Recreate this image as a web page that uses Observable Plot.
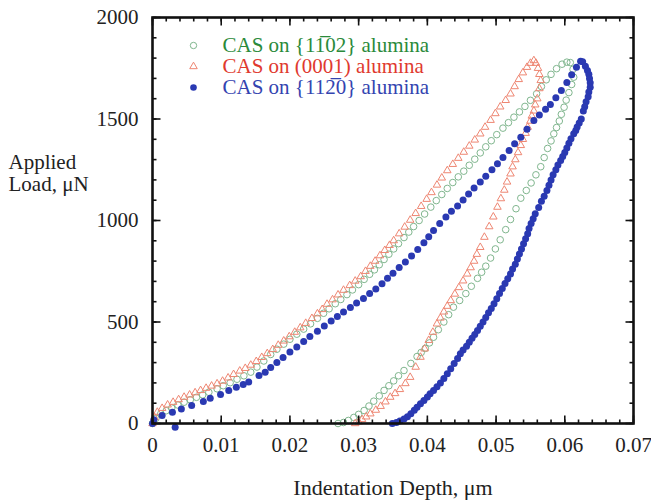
<!DOCTYPE html>
<html><head><meta charset="utf-8">
<script src="https://cdn.jsdelivr.net/npm/d3@7"></script>
<script src="https://cdn.jsdelivr.net/npm/@observablehq/plot@0.6"></script>
<style>body{margin:0;background:#fff}</style>
</head><body><div id="chart"></div>
<script>
// ---- data: [indentation depth (µm), applied load (µN)] ----
const depthTicks = [0, 0.01, 0.02, 0.03, 0.04, 0.05, 0.06, 0.07];
const loadTicks = [0, 500, 1000, 1500, 2000];
const seriesLabels = ["CAS on {11\u030502} alumina", "CAS on (0001) alumina", "CAS on {112\u03050} alumina"];

// green: CAS on {1-102}
const cas1102 = [
[0,0],[0.0005,25],[0.0012,48],[0.0020,63],[0.0028,76],[0.0037,91],[0.0046,105],[0.0055,117],[0.0064,129],[0.0073,141],
[0.0082,154],[0.0094,171],[0.0103,186],[0.0113,201],[0.0123,218],[0.0133,235],[0.0143,253],[0.0152,278],[0.0162,308],[0.0172,340],
[0.0181,366],[0.0191,391],[0.0200,415],[0.0210,440],[0.0220,465],[0.0230,491],[0.0240,518],[0.0249,543],[0.0257,565],[0.0266,590],
[0.0274,611],[0.0283,635],[0.0291,658],[0.0300,684],[0.0308,710],[0.0316,735],[0.0323,757],[0.0330,782],[0.0337,808],[0.0344,834],
[0.0351,860],[0.0358,886],[0.0366,916],[0.0373,943],[0.0380,970],[0.0388,1000],[0.0396,1032],[0.0405,1066],[0.0413,1098],[0.0421,1128],
[0.0429,1158],[0.0437,1187],[0.0445,1215],[0.0453,1243],[0.0461,1272],[0.0469,1302],[0.0477,1333],[0.0485,1363],[0.0493,1393],[0.0501,1423],
[0.0510,1455],[0.0518,1482],[0.0526,1509],[0.0534,1535],[0.0542,1562],[0.0550,1592],[0.0559,1624],[0.0566,1660],[0.0573,1693],[0.0580,1720],
[0.0588,1748],[0.0596,1770],[0.0603,1780],
[0.0608,1778],[0.0612,1745],[0.0613,1706],[0.0610,1670],[0.0606,1630],[0.0602,1593],[0.0599,1558],[0.0595,1523],[0.0592,1490],[0.0588,1458],
[0.0584,1427],[0.0580,1392],[0.0575,1355],[0.0570,1310],[0.0565,1265],[0.0558,1225],[0.0551,1185],[0.0544,1148],[0.0536,1110],[0.0529,1058],
[0.0521,1005],[0.0514,955],[0.0506,905],[0.0499,860],[0.0492,815],[0.0485,775],[0.0479,745],[0.0473,715],[0.0464,676],[0.0456,640],
[0.0447,606],[0.0438,573],[0.0431,536],[0.0424,500],[0.0416,462],[0.0409,425],[0.0403,397],[0.0397,370],[0.0391,350],[0.0385,330],
[0.0376,296],[0.0366,261],[0.0358,235],[0.0351,210],[0.0344,186],[0.0337,163],[0.0330,136],[0.0322,110],[0.0315,86],[0.0308,64],
[0.0300,45],[0.0293,30],[0.0285,15],[0.0278,5],[0.0270,0]
];

// red: CAS on (0001)
const cas0001 = [
[0,0],[0.0003,30],[0.0007,56],[0.0014,75],[0.0022,92],[0.0030,105],[0.0038,118],[0.0046,130],[0.0054,141],[0.0062,152],
[0.0070,163],[0.0078,174],[0.0086,185],[0.0094,196],[0.0102,209],[0.0110,225],[0.0118,242],[0.0127,259],[0.0135,272],[0.0143,288],
[0.0151,306],[0.0159,326],[0.0167,345],[0.0175,365],[0.0183,386],[0.0191,407],[0.0199,428],[0.0207,450],[0.0215,472],[0.0223,494],
[0.0232,518],[0.0240,541],[0.0247,562],[0.0254,588],[0.0262,610],[0.0270,634],[0.0278,657],[0.0287,680],[0.0295,702],[0.0303,724],
[0.0310,750],[0.0317,775],[0.0324,800],[0.0331,827],[0.0338,853],[0.0345,878],[0.0351,901],[0.0359,935],[0.0367,968],[0.0375,1002],
[0.0383,1035],[0.0391,1070],[0.0399,1105],[0.0406,1138],[0.0414,1175],[0.0421,1210],[0.0429,1246],[0.0437,1277],[0.0445,1307],[0.0453,1337],
[0.0461,1367],[0.0469,1397],[0.0477,1427],[0.0484,1460],[0.0492,1494],[0.0499,1527],[0.0506,1560],[0.0514,1592],[0.0521,1624],[0.0527,1660],
[0.0533,1695],[0.0539,1728],[0.0545,1755],[0.0550,1775],[0.0555,1788],
[0.0558,1775],[0.0561,1750],[0.0563,1720],[0.0565,1690],[0.0563,1650],[0.0560,1600],[0.0557,1570],[0.0555,1540],[0.0552,1515],[0.0550,1490],
[0.0546,1460],[0.0543,1430],[0.0539,1400],[0.0536,1370],[0.0532,1335],[0.0528,1300],[0.0524,1265],[0.0521,1230],[0.0516,1190],[0.0512,1150],
[0.0507,1108],[0.0502,1066],[0.0496,1018],[0.0490,970],[0.0483,918],[0.0477,868],[0.0472,834],[0.0468,800],[0.0463,768],[0.0458,737],
[0.0452,703],[0.0446,670],[0.0440,638],[0.0434,606],[0.0429,578],[0.0424,550],[0.0419,520],[0.0414,491],[0.0408,450],[0.0402,410],
[0.0396,368],[0.0390,327],[0.0383,278],[0.0375,228],[0.0368,197],[0.0360,168],[0.0353,148],[0.0346,130],[0.0339,107],[0.0332,85],
[0.0325,66],[0.0317,48],[0.0311,33],[0.0305,20],[0.0300,8],[0.0295,0]
];

// blue: CAS on {11-20}
const cas1120 = [
[0,0],[0.0002,18],[0.0014,39],[0.0029,56],[0.0042,72],[0.0057,89],[0.0074,108],[0.0084,125],[0.0099,143],[0.0111,163],
[0.0122,179],[0.0132,192],[0.0140,204],[0.0155,236],[0.0164,253],[0.0172,276],[0.0181,300],[0.0190,325],[0.0200,352],[0.0210,377],
[0.0220,404],[0.0229,428],[0.0240,455],[0.0250,480],[0.0260,505],[0.0269,527],[0.0278,549],[0.0288,572],[0.0297,593],[0.0307,616],
[0.0316,640],[0.0325,662],[0.0334,688],[0.0342,715],[0.0350,740],[0.0359,768],[0.0368,795],[0.0377,825],[0.0386,857],[0.0395,890],
[0.0402,920],[0.0409,951],[0.0418,985],[0.0427,1017],[0.0435,1046],[0.0444,1072],[0.0452,1101],[0.0460,1131],[0.0468,1160],[0.0477,1190],
[0.0485,1218],[0.0494,1250],[0.0502,1279],[0.0510,1310],[0.0519,1345],[0.0527,1378],[0.0536,1410],[0.0545,1450],[0.0555,1493],[0.0563,1520],
[0.0572,1548],[0.0579,1572],[0.0587,1605],[0.0595,1640],[0.0603,1680],[0.0610,1718],[0.0617,1755],[0.0623,1785],
[0.0626,1782],[0.0630,1760],[0.0633,1739],[0.0635,1720],[0.0636,1700],[0.0637,1678],[0.0637,1657],[0.0635,1633],[0.0634,1610],[0.0631,1585],
[0.0629,1560],[0.0627,1540],[0.0624,1500],[0.0621,1480],[0.0618,1460],[0.0616,1443],[0.0613,1427],[0.0609,1403],[0.0606,1380],[0.0603,1357],
[0.0600,1335],[0.0597,1315],[0.0594,1296],[0.0590,1273],[0.0587,1250],[0.0583,1225],[0.0580,1200],[0.0577,1174],[0.0574,1148],[0.0570,1120],
[0.0566,1095],[0.0562,1064],[0.0557,1033],[0.0554,1009],[0.0551,985],[0.0548,960],[0.0546,935],[0.0543,910],[0.0540,885],[0.0537,860],
[0.0534,835],[0.0531,810],[0.0528,785],[0.0524,761],[0.0521,737],[0.0517,713],[0.0513,690],[0.0509,665],[0.0505,640],[0.0501,615],
[0.0497,590],[0.0493,567],[0.0489,545],[0.0485,522],[0.0481,500],[0.0477,479],[0.0473,458],[0.0469,439],[0.0465,420],[0.0461,400],
[0.0457,380],[0.0452,362],[0.0448,343],[0.0444,320],[0.0439,295],[0.0434,270],[0.0429,245],[0.0424,222],[0.0419,200],[0.0414,181],
[0.0409,163],[0.0404,146],[0.0400,130],[0.0395,113],[0.0390,97],[0.0385,80],[0.0381,65],[0.0376,48],[0.0371,33],[0.0366,22],
[0.0360,12],[0.0355,5],[0.0349,0],
[0.0033,-18]
];

// ---- styling ----
const FONT = "'Liberation Serif', 'Times New Roman', 'DejaVu Serif', serif";
const greenMark = "#80b68e", redMark = "#ee8672", blueMark = "#2a39b2";
const greenText = "#2a8a3a", redText = "#e0392e", blueText = "#3344b0";

const tick = (dx, dy) => ({draw(ctx, size) { const l = Math.sqrt(size / Math.PI); ctx.moveTo(0, 0); ctx.lineTo(dx * l, dy * l); }});
const tUp = tick(0, -1), tDown = tick(0, 1), tRight = tick(1, 0), tLeft = tick(-1, 0);
const xMinor = d3.range(0, 0.0701, 0.002);
const yMinor = d3.range(0, 2001, 100);

const tickMarks = [];
for (const [ticks, len] of [[xMinor, 4], [depthTicks, 8]]) {
  tickMarks.push(Plot.dot(ticks, {x: d => d, frameAnchor: "bottom", symbol: tUp, r: len, stroke: "#111", strokeWidth: 1.6, fill: "none"}));
  tickMarks.push(Plot.dot(ticks, {x: d => d, frameAnchor: "top", symbol: tDown, r: len, stroke: "#111", strokeWidth: 1.6, fill: "none"}));
}
for (const [ticks, len] of [[yMinor, 4], [loadTicks, 8]]) {
  tickMarks.push(Plot.dot(ticks, {y: d => d, frameAnchor: "left", symbol: tRight, r: len, stroke: "#111", strokeWidth: 1.6, fill: "none"}));
  tickMarks.push(Plot.dot(ticks, {y: d => d, frameAnchor: "right", symbol: tLeft, r: len, stroke: "#111", strokeWidth: 1.6, fill: "none"}));
}

const legendStyles = [
  {symbol: "circle", r: 3.2, stroke: greenMark, fill: "none", color: greenText},
  {symbol: "triangle", r: 2.8, stroke: redMark, fill: "none", color: redText},
  {symbol: "circle", r: 3.3, stroke: "none", fill: blueMark, color: blueText}
];
const legendMarks = [];
seriesLabels.forEach((label, i) => {
  const s = legendStyles[i];
  const dy = 28 + i * 21;
  legendMarks.push(Plot.dot([label], {frameAnchor: "top-left", dx: 41, dy, symbol: s.symbol, r: s.r, stroke: s.stroke, fill: s.fill, strokeWidth: 1}));
  legendMarks.push(Plot.text([label], {frameAnchor: "top-left", dx: 70, dy, text: d => d, textAnchor: "start", lineAnchor: "middle", fill: s.color, fontSize: 21, fontFamily: FONT}));
});

const chart = Plot.plot({
  width: 651, height: 501,
  marginLeft: 152, marginRight: 18, marginTop: 17, marginBottom: 78,
  x: {domain: [0, 0.07]},
  y: {domain: [0, 2000]},
  style: {fontFamily: FONT, fontSize: "21px", color: "#222", background: "#fff", overflow: "visible"},
  marks: [
    Plot.axisX({ticks: depthTicks, tickSize: 0, tickPadding: 14, tickFormat: d => d === 0 ? "0" : d3.format(".2f")(d), label: null, fontSize: 21, fill: "#222"}),
    Plot.axisY({ticks: loadTicks, tickSize: 0, tickPadding: 14, tickFormat: d => String(d), label: null, fontSize: 21, fill: "#222"}),
    Plot.dot(cas1102, {x: d => d[0], y: d => d[1], symbol: "circle", r: 3.3, stroke: greenMark, fill: "none", strokeWidth: 1}),
    Plot.dot(cas0001, {x: d => d[0], y: d => d[1], symbol: "triangle", r: 2.8, stroke: redMark, fill: "none", strokeWidth: 1}),
    Plot.dot(cas1120, {x: d => d[0], y: d => d[1], symbol: "circle", r: 3.5, fill: blueMark, stroke: "none"}),
    ...tickMarks,
    Plot.frame({stroke: "#111", strokeWidth: 2.6}),
    ...legendMarks,
    Plot.text(["Applied\nLoad, \u03bcN"], {frameAnchor: "left", dx: -144, dy: -48, text: d => d, textAnchor: "start", lineAnchor: "middle", lineHeight: 1.05, fontSize: 21, fontFamily: FONT, fill: "#222"}),
    Plot.text(["Indentation Depth, \u03bcm"], {frameAnchor: "bottom", dy: 64, text: d => d, lineAnchor: "middle", fontSize: 22, fontFamily: FONT, fill: "#222"})
  ]
});
document.getElementById("chart").appendChild(chart);
</script>
</body></html>
